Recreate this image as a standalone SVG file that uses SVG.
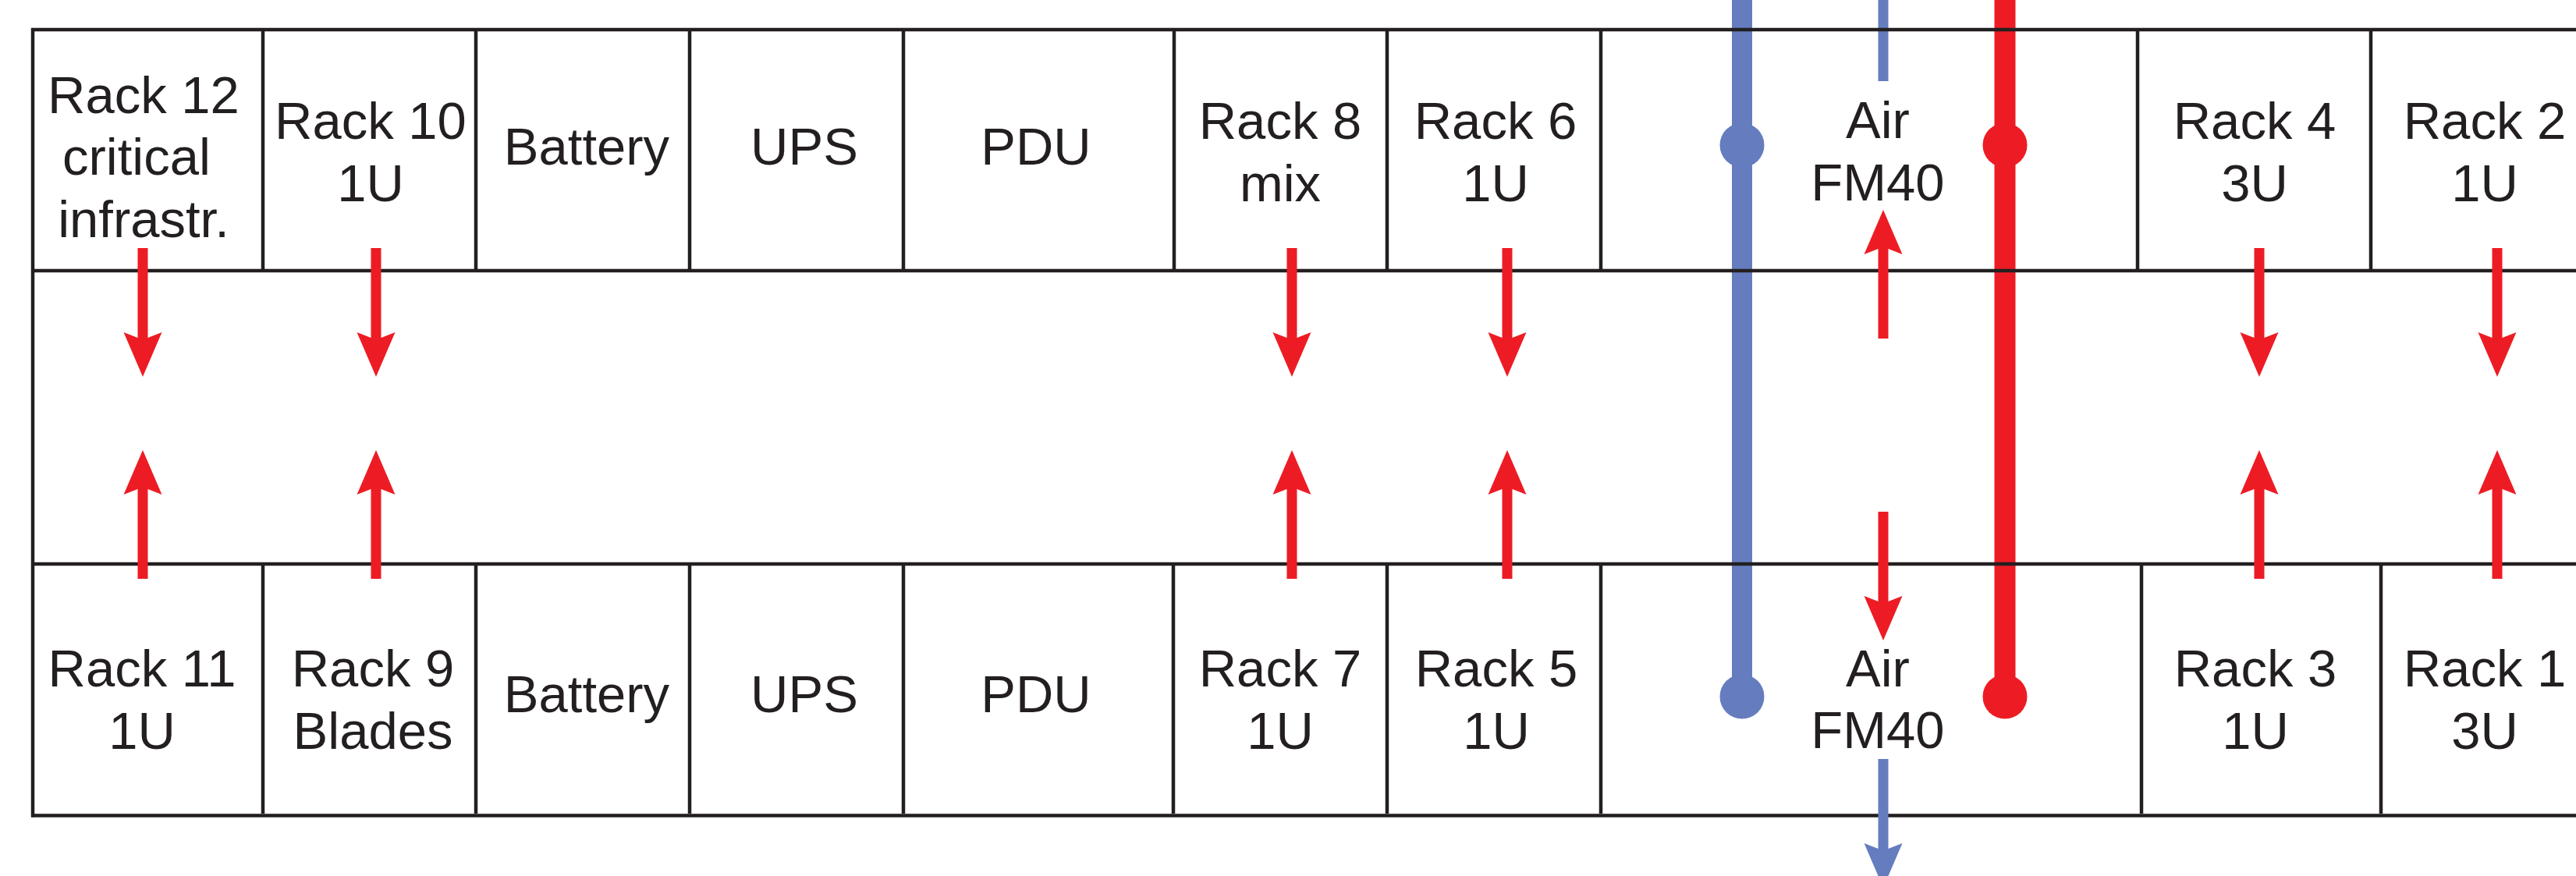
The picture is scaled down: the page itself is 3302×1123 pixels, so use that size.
<svg xmlns="http://www.w3.org/2000/svg" width="3302" height="1123" viewBox="0 0 3302 1123">
<style>
.ln{stroke:#231F20;stroke-width:4.5;fill:none}
.t{font-family:"Liberation Sans",Arial,Helvetica,sans-serif;font-size:67px;fill:#231F20;text-anchor:middle}
.red{fill:#ED1C24}
.blue{fill:#657DBF}
</style>
<defs>
<path id="arw" d="M-6.5,-165 H6.5 V-50 L24.5,-57 L0,0 L-24.5,-57 L-6.5,-50 Z"/>
</defs>
<rect x="0" y="0" width="3302" height="1123" fill="#fff"/>
<g id="pipes">
<rect class="blue" x="2220" y="0" width="26" height="893"/>
<circle class="blue" cx="2233" cy="186" r="28.5"/>
<circle class="blue" cx="2233" cy="893" r="28.5"/>
<rect class="red" x="2556.5" y="0" width="27" height="893"/>
<circle class="red" cx="2570" cy="186" r="28.5"/>
<circle class="red" cx="2570" cy="893" r="28.5"/>
<rect class="blue" x="2407.5" y="0" width="13" height="104"/>
</g>
<g id="grid">
<line class="ln" x1="40" y1="38" x2="3302" y2="38"/>
<line class="ln" x1="40" y1="347" x2="3302" y2="347"/>
<line class="ln" x1="40" y1="723" x2="3302" y2="723"/>
<line class="ln" x1="40" y1="1045.5" x2="3302" y2="1045.5"/>
<line class="ln" x1="42" y1="36" x2="42" y2="1047.5"/>
<path class="ln" d="M337,38V347 M610,38V347 M884,38V347 M1158,38V347 M1505,38V347 M1778,38V347 M2052,38V347 M2740,38V347 M3039,38V347"/>
<path class="ln" d="M337,723V1043 M610,723V1043 M884,723V1043 M1158,723V1043 M1504,723V1043 M1778,723V1043 M2052,723V1043 M2745,723V1043 M3052,723V1043"/>
</g>
<g id="rack12"><text class="t" x="184" y="145">Rack 12</text><text class="t" x="175" y="224">critical</text><text class="t" x="184" y="304">infrastr.</text></g>
<g id="rack10"><text class="t" x="475" y="178">Rack 10</text><text class="t" x="475" y="258">1U</text></g>
<g id="battery-top"><text class="t" x="752" y="211">Battery</text></g>
<g id="ups-top"><text class="t" x="1031" y="211">UPS</text></g>
<g id="pdu-top"><text class="t" x="1328" y="211">PDU</text></g>
<g id="rack8"><text class="t" x="1641" y="178">Rack 8</text><text class="t" x="1641" y="258">mix</text></g>
<g id="rack6"><text class="t" x="1917" y="178">Rack 6</text><text class="t" x="1917" y="258">1U</text></g>
<g id="air-top"><text class="t" x="2407" y="177">Air</text><text class="t" x="2407" y="257">FM40</text></g>
<g id="rack4"><text class="t" x="2890" y="178">Rack 4</text><text class="t" x="2890" y="258">3U</text></g>
<g id="rack2"><text class="t" x="3185" y="178">Rack 2</text><text class="t" x="3185" y="258">1U</text></g>
<g id="rack11"><text class="t" x="182" y="880">Rack 11</text><text class="t" x="182" y="960">1U</text></g>
<g id="rack9"><text class="t" x="478" y="880">Rack 9</text><text class="t" x="478" y="960">Blades</text></g>
<g id="battery-bottom"><text class="t" x="752" y="913">Battery</text></g>
<g id="ups-bottom"><text class="t" x="1031" y="913">UPS</text></g>
<g id="pdu-bottom"><text class="t" x="1328" y="913">PDU</text></g>
<g id="rack7"><text class="t" x="1641" y="880">Rack 7</text><text class="t" x="1641" y="960">1U</text></g>
<g id="rack5"><text class="t" x="1918" y="880">Rack 5</text><text class="t" x="1918" y="960">1U</text></g>
<g id="air-bottom"><text class="t" x="2407" y="880">Air</text><text class="t" x="2407" y="959">FM40</text></g>
<g id="rack3"><text class="t" x="2891" y="880">Rack 3</text><text class="t" x="2891" y="960">1U</text></g>
<g id="rack1"><text class="t" x="3185" y="880">Rack 1</text><text class="t" x="3185" y="960">3U</text></g>
<g id="connectors">
<use href="#arw" class="red" transform="translate(183,483)"/>
<use href="#arw" class="red" transform="translate(482,483)"/>
<use href="#arw" class="red" transform="translate(1656,483)"/>
<use href="#arw" class="red" transform="translate(1932,483)"/>
<use href="#arw" class="red" transform="translate(2896,483)"/>
<use href="#arw" class="red" transform="translate(3201,483)"/>
<use href="#arw" class="red" transform="translate(183,577) rotate(180)"/>
<use href="#arw" class="red" transform="translate(482,577) rotate(180)"/>
<use href="#arw" class="red" transform="translate(1656,577) rotate(180)"/>
<use href="#arw" class="red" transform="translate(1932,577) rotate(180)"/>
<use href="#arw" class="red" transform="translate(2896,577) rotate(180)"/>
<use href="#arw" class="red" transform="translate(3201,577) rotate(180)"/>
<use href="#arw" class="red" transform="translate(2414,269) rotate(180)"/>
<use href="#arw" class="red" transform="translate(2414,821)"/>
<use href="#arw" class="blue" transform="translate(2414,1138)"/>
</g>
</svg>
